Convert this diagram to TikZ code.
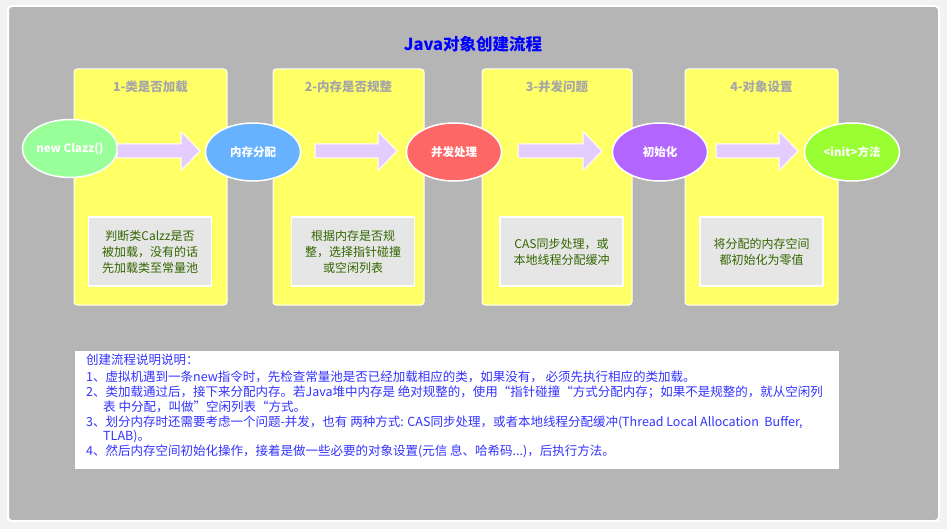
\documentclass[tikz,border=0pt]{standalone}
\usepackage{fontspec}
\setmainfont{Noto Sans CJK SC}
\usetikzlibrary{shapes.geometric,calc}
\definecolor{panelgray}{HTML}{B5B5B5}
\definecolor{outerbg}{HTML}{F2F2F2}
\definecolor{colyellow}{HTML}{FFFF66}
\definecolor{hdrgray}{HTML}{A6A6A6}
\definecolor{boxgray}{HTML}{E6E6E6}
\definecolor{boxtext}{HTML}{336600}
\definecolor{arrfill}{HTML}{E5CCFF}
\definecolor{notetext}{HTML}{3333FF}
\definecolor{egreen}{HTML}{99FF99}
\definecolor{eblue}{HTML}{66B2FF}
\definecolor{ered}{HTML}{FF6666}
\definecolor{epurple}{HTML}{B266FF}
\definecolor{elime}{HTML}{99FF33}
\tikzset{
  column/.style={fill=colyellow,draw=white,line width=1pt,rounded corners=3pt},
  colhdr/.style={text=hdrgray,font=\bfseries\fontsize{12.5}{14}\selectfont,inner sep=0pt},
  stepell/.style={ellipse,draw=white,line width=1.5pt,minimum width=95pt,minimum height=58pt,inner sep=0pt,text=white,font=\bfseries\fontsize{11.5}{13}\selectfont},
  notebox/.style={fill=boxgray,draw=white,line width=1.5pt,minimum width=123pt,minimum height=69pt,inner sep=0pt,text=boxtext,align=center,font=\fontsize{12}{16}\selectfont},
  barrow/.style={fill=arrfill,draw=white,line width=1pt},
  noteline/.style={anchor=west,inner sep=0pt,text=notetext,font=\fontsize{12.5}{14}\selectfont}
}
\newcommand{\blockarr}[2]{% start coordinate, length
  \draw[barrow] (#1) ++(0,-7) -- ++(#2-19,0) -- ++(0,-12.5) -- ++(19,19.5) -- ++(-19,19.5) -- ++(0,-12.5) -- ++(-#2+19,0) -- cycle;}
\begin{document}
\begin{tikzpicture}[x=1pt,y=-1pt]
\useasboundingbox (0,0) rectangle (947,529);
\fill[outerbg] (0,0) rectangle (947,529);
\draw[fill=panelgray,draw=white,line width=2pt,rounded corners=4pt] (8,6) rectangle (939,521);
\node[text=blue,font=\bfseries\fontsize{16.5}{18}\selectfont,inner sep=0pt] (title) at (473,44) {Java对象创建流程};
% columns
\draw[column] (74,69) rectangle (227,305);
\draw[column] (273,69) rectangle (424,305);
\draw[column] (482,69) rectangle (632,305);
\draw[column] (685,69) rectangle (838,305);
\node[colhdr] (h1) at (150.5,87) {1-类是否加载};
\node[colhdr] (h2) at (348.5,87) {2-内存是否规整};
\node[colhdr] (h3) at (557,87) {3-并发问题};
\node[colhdr] (h4) at (761.5,87) {4-对象设置};
% ellipses
\node[stepell,fill=egreen] (e1) at (70,148.5) {new Clazz()};
\node[stepell,fill=eblue] (e2) at (253,152) {内存分配};
\node[stepell,fill=ered] (e3) at (454,152) {并发处理};
\node[stepell,fill=epurple] (e4) at (660,152) {初始化};
\node[stepell,fill=elime] (e5) at (852,152) {<init>方法};
% arrows
\coordinate (a1) at (117,151);
\coordinate (a2) at (315,151);
\coordinate (a3) at (518,151);
\coordinate (a4) at (716,151);
\blockarr{a1}{83}
\blockarr{a2}{82}
\blockarr{a3}{84}
\blockarr{a4}{82}
% note boxes
\node[notebox] (b1) at (150,251.5) {判断类Calzz是否\\被加载，没有的话\\先加载类至常量池};
\node[notebox] (b2) at (353,251.5) {根据内存是否规\\整，选择指针碰撞\\或空闲列表};
\node[notebox] (b3) at (561.5,251.5) {CAS同步处理，或\\本地线程分配缓冲};
\node[notebox] (b4) at (761.5,251.5) {将分配的内存空间\\都初始化为零值};
% bottom description
\node[fill=white,draw=white,minimum width=763pt,minimum height=117pt,inner sep=0pt] (desc) at (457,409.5) {};
\node[noteline] (l0) at (86,360) {创建流程说明说明：};
\node[noteline] (l1) at (86,377) {1、虚拟机遇到一条new指令时，先检查常量池是否已经加载相应的类，如果没有， 必须先执行相应的类加载。};
\node[noteline] (l2) at (86,392) {2、类加载通过后，接下来分配内存。若Java堆中内存是 绝对规整的，使用“指针碰撞“方式分配内存；如果不是规整的，就从空闲列};
\node[noteline] (l3) at (103,407) {表 中分配，叫做”空闲列表“方式。};
\node[noteline] (l4) at (86,422) {3、划分内存时还需要考虑一个问题-并发，也有 两种方式: CAS同步处理，或者本地线程分配缓冲(Thread Local Allocation\ \ Buffer,};
\node[noteline] (l5) at (103,437) {TLAB)。};
\node[noteline] (l6) at (86,451) {4、然后内存空间初始化操作，接着是做一些必要的对象设置(元信 息、哈希码...)，后执行方法。};
\end{tikzpicture}
\end{document}
